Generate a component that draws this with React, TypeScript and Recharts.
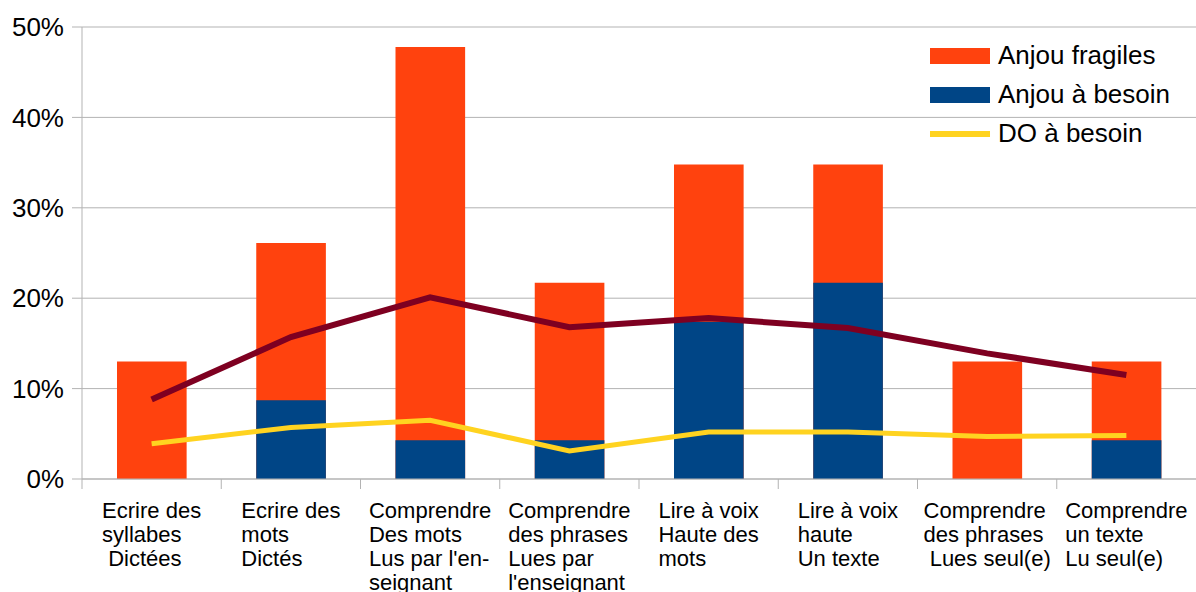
import { Bar, CartesianGrid, ComposedChart, Line, XAxis, YAxis } from "recharts";

// category labels, one array of lines per category
const categories: string[][] = [
  ["Ecrire des", "syllabes", " Dictées"],
  ["Ecrire des", "mots", "Dictés"],
  ["Comprendre", "Des mots", "Lus par l'en-", "seignant"],
  ["Comprendre", "des phrases", "Lues par", "l'enseignant"],
  ["Lire à voix", "Haute des", "mots"],
  ["Lire à voix", "haute", "Un texte"],
  ["Comprendre", "des phrases", " Lues seul(e)"],
  ["Comprendre", "un texte", "Lu seul(e)"],
];

// values in %
const anjouFragiles = [13.0, 26.1, 47.8, 21.7, 34.8, 34.8, 13.0, 13.0];
const anjouBesoin = [0, 8.7, 4.3, 4.3, 17.4, 21.7, 0, 4.3];
const doFragiles = [8.8, 15.7, 20.1, 16.8, 17.8, 16.7, 13.9, 11.5];
const doBesoin = [3.9, 5.7, 6.5, 3.1, 5.2, 5.2, 4.7, 4.8];

const yTicks = [0, 10, 20, 30, 40, 50];

// legend entries (the DO fragiles line is not in the legend)
const legendItems = [
  { label: "Anjou fragiles", color: "#ff420e", kind: "rect" },
  { label: "Anjou à besoin", color: "#004586", kind: "rect" },
  { label: "DO à besoin", color: "#ffd320", kind: "line" },
];

const data = categories.map((lines, i) => ({
  name: lines.join(" "),
  anjouFragiles: anjouFragiles[i],
  anjouBesoin: anjouBesoin[i],
  doFragiles: doFragiles[i],
  doBesoin: doBesoin[i],
}));

const W = 1196;
const H = 592;
const Y_AXIS_W = 82;
const BAND = (W - Y_AXIS_W) / categories.length;
const GREY = "#b3b3b3";
const FONT = '"Liberation Sans", Arial, sans-serif';
const X_FONT = 22;

let ctx: CanvasRenderingContext2D | null = null;
function textWidth(s: string) {
  if (!ctx) ctx = document.createElement("canvas").getContext("2d");
  if (!ctx) return s.length * X_FONT * 0.5;
  ctx.font = `${X_FONT}px "Liberation Sans"`;
  return ctx.measureText(s).width;
}

function CategoryTick(props: any) {
  const { x, y, index } = props;
  const lines = categories[index] ?? [];
  const blockW = Math.max(...lines.map(textWidth));
  const left = x - blockW / 2;
  return (
    <g>
      <line x1={x - BAND / 2} x2={x - BAND / 2} y1={y} y2={y + 10} stroke={GREY} />
      <text x={left} y={y + 39} fontSize={X_FONT} fontFamily={FONT} fill="#000" xmlSpace="preserve">
        {lines.map((l, i) => (
          <tspan key={i} x={left} dy={i === 0 ? 0 : 24} style={{ whiteSpace: "pre" }}>
            {l}
          </tspan>
        ))}
      </text>
    </g>
  );
}

function LegendBox() {
  return (
    <div style={{ position: "absolute", left: 930, top: 36, fontFamily: FONT, fontSize: 26 }}>
      {legendItems.map((p) => (
        <div key={p.label} style={{ display: "flex", alignItems: "center", height: 39 }}>
          <div
            style={{
              width: 60,
              height: p.kind === "line" ? 6 : 16,
              background: p.color,
              marginRight: 8,
            }}
          />
          <span>{p.label}</span>
        </div>
      ))}
    </div>
  );
}

export default function App() {
  return (
    <div style={{ position: "absolute", left: 0, top: 0, width: W, height: H, background: "#fff" }}>
      <ComposedChart
        width={W}
        height={H}
        data={data}
        margin={{ top: 27, right: 0, left: 0, bottom: 0 }}
        barSize={BAND / 2}
        barGap={-BAND / 2}
      >
        <CartesianGrid vertical={false} stroke={GREY} />
        <XAxis
          dataKey="name"
          height={113}
          tickSize={0}
          tickMargin={0}
          axisLine={{ stroke: GREY }}
          tick={<CategoryTick />}
          interval={0}
        />
        <YAxis
          width={Y_AXIS_W}
          domain={[0, 50]}
          ticks={yTicks}
          tickFormatter={(v: number) => `${v}%`}
          tickSize={10}
          tickMargin={8}
          tickLine={{ stroke: GREY }}
          axisLine={{ stroke: GREY }}
          tick={{ fill: "#000", fontSize: 26, fontFamily: FONT }}
        />
        <Bar dataKey="anjouFragiles" name="Anjou fragiles" fill="#ff420e" isAnimationActive={false} />
        <Bar dataKey="anjouBesoin" name="Anjou à besoin" fill="#004586" isAnimationActive={false} />
        <Line
          dataKey="doBesoin"
          name="DO à besoin"
          stroke="#ffd320"
          strokeWidth={5}
          dot={false}
          activeDot={false}
          type="linear"
          isAnimationActive={false}
        />
        <Line
          dataKey="doFragiles"
          name="DO fragiles"
          stroke="#7e0021"
          strokeWidth={6}
          dot={false}
          activeDot={false}
          type="linear"
          isAnimationActive={false}
        />
      </ComposedChart>
      <LegendBox />
    </div>
  );
}
